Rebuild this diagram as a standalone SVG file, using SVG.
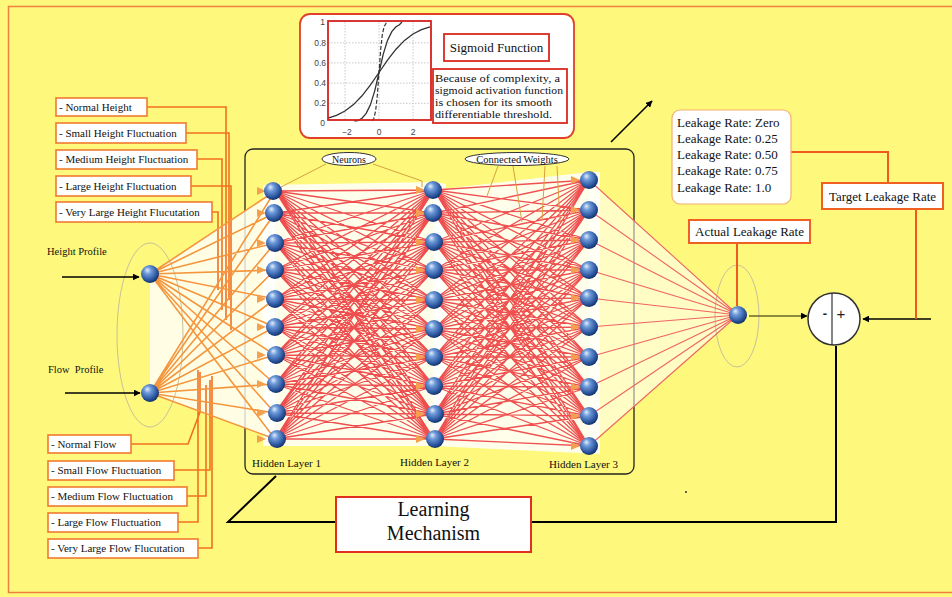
<svg xmlns="http://www.w3.org/2000/svg" xmlns:xlink="http://www.w3.org/1999/xlink" width="952" height="597" viewBox="0 0 952 597" font-family="'Liberation Serif','DejaVu Serif',serif">
<defs>
<radialGradient id="sph" cx="0.42" cy="0.38" r="0.65" fx="0.35" fy="0.28">
<stop offset="0" stop-color="#E4EEFB"/>
<stop offset="0.3" stop-color="#6F9BDA"/>
<stop offset="0.75" stop-color="#2A559E"/>
<stop offset="1" stop-color="#0F2B60"/>
</radialGradient>
<marker id="arr" viewBox="0 0 10 10" refX="9" refY="5" markerWidth="7" markerHeight="7" orient="auto" markerUnits="userSpaceOnUse">
<path d="M0 0L10 5L0 10Z" fill="#000"/>
</marker>
<path id="ah" d="M-18 -4L-9 0L-18 4Z" fill="#F5A04E"/>
<circle id="nd" r="9" fill="url(#sph)"/>
</defs>
<style>
.t{font-family:'Liberation Serif','DejaVu Serif',serif;fill:#111}
.s{font-family:'Liberation Sans',Arial,sans-serif;fill:#444;font-size:8.5px}
.box{fill:#fff;stroke:#F07A30;stroke-width:1.6}
.rbox{fill:#fff;stroke:#D82A20;stroke-width:1.8}
.conn{fill:none;stroke:#F07020;stroke-width:1.6}
.wt{fill:none;stroke-linejoin:round}
</style>
<rect x="0" y="0" width="952" height="597" fill="#FEF97C"/>
<rect x="8.5" y="6.5" width="960" height="586" fill="none" stroke="#F08040" stroke-width="1.5"/>

<g id="network-frame">
<rect x="245" y="149" width="389" height="325" rx="8" fill="none" stroke="#222" stroke-width="1.3"/>
<polygon points="150,274 275,191 275,439 150,393" fill="#fff" opacity="0.8"/>
<polygon points="263,185 434,182 446,184 446,446 263,446" fill="#fff" opacity="0.85"/>
<polygon points="434,190 589,172 600,172 600,454 434,446" fill="#fff" opacity="0.85"/>
<polygon points="589,180 738,315 589,446" fill="#fff" opacity="0.55"/>
<ellipse cx="150" cy="335" rx="33" ry="92" fill="none" stroke="#C8C09A" stroke-width="1"/>
<ellipse cx="737" cy="316" rx="22" ry="51" fill="none" stroke="#C8C09A" stroke-width="1"/>
</g>

<g id="label-connectors">
<path class="conn" d="M147 107H226V320M186 133H229V300M197 159H222V310M191 186H231V330M212 212H218V290"/>
<path class="conn" d="M131 444H188L200 412V372M174 470H210V380M187 496H206V385M178 522H198V370M198 548H212V376"/>
</g>

<g id="connectors">
<path class="wt" stroke="#F5963E" stroke-width="1.6" d="M150 274L275 191 150 274 275 213 150 274 275 243 150 274 275 270 150 274 275 299 150 274 275 327 150 274 275 355 150 274 275 384 150 274 275 413 150 274 275 439M150 393L275 191 150 393 275 213 150 393 275 243 150 393 275 270 150 393 275 299 150 393 275 327 150 393 275 355 150 393 275 384 150 393 275 413 150 393 275 439"/>
<path class="wt" stroke="#EE4E4E" stroke-width="1.3" d="M275 191L434 190 275 191 434 213 275 191 434 242 275 191 434 270 275 191 434 300 275 191 434 329 275 191 434 357 275 191 434 386 275 191 434 414 275 191 434 439
M275 213L434 190 275 213 434 213 275 213 434 242 275 213 434 270 275 213 434 300 275 213 434 329 275 213 434 357 275 213 434 386 275 213 434 414 275 213 434 439
M275 243L434 190 275 243 434 213 275 243 434 242 275 243 434 270 275 243 434 300 275 243 434 329 275 243 434 357 275 243 434 386 275 243 434 414 275 243 434 439
M275 270L434 190 275 270 434 213 275 270 434 242 275 270 434 270 275 270 434 300 275 270 434 329 275 270 434 357 275 270 434 386 275 270 434 414 275 270 434 439
M275 299L434 190 275 299 434 213 275 299 434 242 275 299 434 270 275 299 434 300 275 299 434 329 275 299 434 357 275 299 434 386 275 299 434 414 275 299 434 439
M275 327L434 190 275 327 434 213 275 327 434 242 275 327 434 270 275 327 434 300 275 327 434 329 275 327 434 357 275 327 434 386 275 327 434 414 275 327 434 439
M275 355L434 190 275 355 434 213 275 355 434 242 275 355 434 270 275 355 434 300 275 355 434 329 275 355 434 357 275 355 434 386 275 355 434 414 275 355 434 439
M275 384L434 190 275 384 434 213 275 384 434 242 275 384 434 270 275 384 434 300 275 384 434 329 275 384 434 357 275 384 434 386 275 384 434 414 275 384 434 439
M275 413L434 190 275 413 434 213 275 413 434 242 275 413 434 270 275 413 434 300 275 413 434 329 275 413 434 357 275 413 434 386 275 413 434 414 275 413 434 439
M275 439L434 190 275 439 434 213 275 439 434 242 275 439 434 270 275 439 434 300 275 439 434 329 275 439 434 357 275 439 434 386 275 439 434 414 275 439 434 439"/>
<path class="wt" stroke="#EF5050" stroke-width="1.3" d="M434 190L589 180 434 190 589 210 434 190 589 240 434 190 589 270 434 190 589 298 434 190 589 327 434 190 589 357 434 190 589 387 434 190 589 416 434 190 589 446
M434 213L589 180 434 213 589 210 434 213 589 240 434 213 589 270 434 213 589 298 434 213 589 327 434 213 589 357 434 213 589 387 434 213 589 416 434 213 589 446
M434 242L589 180 434 242 589 210 434 242 589 240 434 242 589 270 434 242 589 298 434 242 589 327 434 242 589 357 434 242 589 387 434 242 589 416 434 242 589 446
M434 270L589 180 434 270 589 210 434 270 589 240 434 270 589 270 434 270 589 298 434 270 589 327 434 270 589 357 434 270 589 387 434 270 589 416 434 270 589 446
M434 300L589 180 434 300 589 210 434 300 589 240 434 300 589 270 434 300 589 298 434 300 589 327 434 300 589 357 434 300 589 387 434 300 589 416 434 300 589 446
M434 329L589 180 434 329 589 210 434 329 589 240 434 329 589 270 434 329 589 298 434 329 589 327 434 329 589 357 434 329 589 387 434 329 589 416 434 329 589 446
M434 357L589 180 434 357 589 210 434 357 589 240 434 357 589 270 434 357 589 298 434 357 589 327 434 357 589 357 434 357 589 387 434 357 589 416 434 357 589 446
M434 386L589 180 434 386 589 210 434 386 589 240 434 386 589 270 434 386 589 298 434 386 589 327 434 386 589 357 434 386 589 387 434 386 589 416 434 386 589 446
M434 414L589 180 434 414 589 210 434 414 589 240 434 414 589 270 434 414 589 298 434 414 589 327 434 414 589 357 434 414 589 387 434 414 589 416 434 414 589 446
M434 439L589 180 434 439 589 210 434 439 589 240 434 439 589 270 434 439 589 298 434 439 589 327 434 439 589 357 434 439 589 387 434 439 589 416 434 439 589 446"/>
<path class="wt" stroke="#F06464" stroke-width="1.1" d="M738 315L589 180 738 315 589 210 738 315 589 240 738 315 589 270 738 315 589 298 738 315 589 327 738 315 589 357 738 315 589 387 738 315 589 416 738 315 589 446"/>
<path fill="none" stroke="#D9A040" stroke-width="1" d="M326 164L281 187M373 164L422 181V187M498 166L487 196M513 166L522 222M545 166L542 220M557 166L560 222"/>
<path fill="none" stroke="#000" stroke-width="1.6" marker-end="url(#arr)" d="M62 277H139"/>
<path fill="none" stroke="#000" stroke-width="1.6" marker-end="url(#arr)" d="M65 393H140"/>
<path fill="none" stroke="#66662A" stroke-width="1.6" marker-end="url(#arr)" d="M749 316H807"/>
<path fill="none" stroke="#000" stroke-width="1.6" marker-end="url(#arr)" d="M931 319H863"/>
<path fill="none" stroke="#000" stroke-width="1.6" marker-end="url(#arr)" d="M611 142L652 101"/>
<path fill="none" stroke="#F05A1E" stroke-width="2" d="M791 152H888V183M916 209V319M737 243V306"/>
<path fill="none" stroke="#000" stroke-width="2" d="M836 346V522H531M336 522H228L276 476"/>
</g>

<g id="arrowheads">
<use href="#ah" x="275" y="191"/><use href="#ah" x="275" y="213"/><use href="#ah" x="275" y="243"/><use href="#ah" x="275" y="270"/><use href="#ah" x="275" y="299"/><use href="#ah" x="275" y="327"/><use href="#ah" x="275" y="355"/><use href="#ah" x="275" y="384"/><use href="#ah" x="275" y="413"/><use href="#ah" x="275" y="439"/>
<use href="#ah" x="434" y="190"/><use href="#ah" x="434" y="213"/><use href="#ah" x="434" y="242"/><use href="#ah" x="434" y="270"/><use href="#ah" x="434" y="300"/><use href="#ah" x="434" y="329"/><use href="#ah" x="434" y="357"/><use href="#ah" x="434" y="386"/><use href="#ah" x="434" y="414"/><use href="#ah" x="434" y="439"/>
<use href="#ah" x="589" y="180"/><use href="#ah" x="589" y="210"/><use href="#ah" x="589" y="240"/><use href="#ah" x="589" y="270"/><use href="#ah" x="589" y="298"/><use href="#ah" x="589" y="327"/><use href="#ah" x="589" y="357"/><use href="#ah" x="589" y="387"/><use href="#ah" x="589" y="416"/><use href="#ah" x="589" y="446"/>
</g>

<g id="input-layer">
<use href="#nd" x="150" y="274"/><use href="#nd" x="150" y="393"/>
<text class="t" x="47" y="255" font-size="10.5">Height Profile</text>
<text class="t" x="48" y="373" font-size="10.5" style="white-space:pre">Flow  Profile</text>
</g>
<g id="hidden-layer-1">
<use href="#nd" x="273" y="191"/><use href="#nd" x="274" y="213"/><use href="#nd" x="275" y="243"/><use href="#nd" x="275" y="270"/><use href="#nd" x="275" y="299"/><use href="#nd" x="275" y="327"/><use href="#nd" x="276" y="355"/><use href="#nd" x="276" y="384"/><use href="#nd" x="277" y="413"/><use href="#nd" x="277" y="439"/>
<text class="t" x="252" y="467" font-size="11">Hidden Layer 1</text>
</g>
<g id="hidden-layer-2">
<use href="#nd" x="433" y="190"/><use href="#nd" x="433" y="213"/><use href="#nd" x="434" y="242"/><use href="#nd" x="434" y="270"/><use href="#nd" x="434" y="300"/><use href="#nd" x="434" y="329"/><use href="#nd" x="434" y="357"/><use href="#nd" x="434" y="386"/><use href="#nd" x="435" y="414"/><use href="#nd" x="435" y="439"/>
<text class="t" x="400" y="466" font-size="11">Hidden Layer 2</text>
</g>
<g id="hidden-layer-3">
<use href="#nd" x="589" y="180"/><use href="#nd" x="589" y="210"/><use href="#nd" x="589" y="240"/><use href="#nd" x="589" y="270"/><use href="#nd" x="589" y="298"/><use href="#nd" x="589" y="327"/><use href="#nd" x="589" y="357"/><use href="#nd" x="589" y="387"/><use href="#nd" x="589" y="416"/><use href="#nd" x="589" y="446"/>
<text class="t" x="549" y="468" font-size="11">Hidden Layer 3</text>
</g>
<g id="output-node">
<use href="#nd" x="738" y="315"/>
</g>

<g id="neurons-label">
<ellipse cx="349" cy="159" rx="27" ry="6.5" fill="#fff" stroke="#333" stroke-width="1"/>
<text class="t" x="349" y="162.5" font-size="10" text-anchor="middle">Neurons</text>
</g>
<g id="weights-label">
<ellipse cx="517" cy="159" rx="52" ry="6.5" fill="#fff" stroke="#333" stroke-width="1"/>
<text class="t" x="517" y="162.5" font-size="10.5" text-anchor="middle">Connected Weights</text>
</g>

<g id="height-inputs">
<rect class="box" x="56" y="98" width="91" height="18"/><text class="t" x="59" y="111" font-size="11">- Normal Height</text>
<rect class="box" x="56" y="123" width="130" height="20"/><text class="t" x="59" y="137" font-size="11">- Small Height Fluctuation</text>
<rect class="box" x="56" y="150" width="141" height="19"/><text class="t" x="59" y="163" font-size="11">- Medium Height Fluctuation</text>
<rect class="box" x="56" y="176" width="135" height="20"/><text class="t" x="59" y="190" font-size="11">- Large Height Fluctuation</text>
<rect class="box" x="56" y="202" width="156" height="20"/><text class="t" x="59" y="216" font-size="11">- Very Large Height Flucutation</text>
</g>
<g id="flow-inputs">
<rect class="box" x="48" y="435" width="83" height="18"/><text class="t" x="51" y="448" font-size="11">- Normal Flow</text>
<rect class="box" x="48" y="461" width="126" height="19"/><text class="t" x="51" y="474" font-size="11">- Small Flow Fluctuation</text>
<rect class="box" x="48" y="487" width="139" height="19"/><text class="t" x="51" y="500" font-size="11">- Medium Flow Fluctuation</text>
<rect class="box" x="48" y="513" width="130" height="19"/><text class="t" x="51" y="526" font-size="11">- Large Flow Fluctuation</text>
<rect class="box" x="48" y="539" width="150" height="19"/><text class="t" x="51" y="552" font-size="11">- Very Large Flow Flucutation</text>
</g>

<g id="sigmoid-panel">
<rect x="300" y="14" width="274" height="124" rx="10" fill="#fff" stroke="#E0402A" stroke-width="1.8"/>
<path fill="none" stroke="#BBB" stroke-width="0.8" stroke-dasharray="1.5 1.5" d="M345 22V121M379 22V121M413 22V121M328 42.8H431M328 62.9H431M328 83.1H431M328 103.3H431"/>
<polyline fill="none" stroke="#333" stroke-width="1.3" points="328,118.2 336.5,115.3 345,111 353.5,104.6 362,95.8 370.5,84.9 379,72.5 387.5,60.1 396,49.2 404.5,40.4 413,34 421.5,29.7 430,26.8"/>
<polyline fill="none" stroke="#333" stroke-width="1.3" points="354.5,121 358.6,120.3 362,118.2 366.2,113.4 370.5,104.6 374.8,90.6 379,72.5 383.2,54.4 387.5,40.4 391.8,31.6 396,26.8 399.4,24.7 402,22"/>
<polyline fill="none" stroke="#333" stroke-width="1.2" stroke-dasharray="4 2" points="372.2,121 373.9,118.2 375.6,111 377.3,95.8 379,72.5 380.7,49.2 382.4,34 384.1,26.8 385.8,23.8 386.5,22"/>
<rect x="328" y="21" width="103" height="99" fill="none" stroke="#D42020" stroke-width="1.8"/>
<text class="s" x="325" y="25" text-anchor="end">1</text>
<text class="s" x="326" y="46" text-anchor="end">0.8</text>
<text class="s" x="326" y="66" text-anchor="end">0.6</text>
<text class="s" x="326" y="86" text-anchor="end">0.4</text>
<text class="s" x="326" y="106" text-anchor="end">0.2</text>
<text class="s" x="325" y="126" text-anchor="end">0</text>
<text class="s" x="347" y="135" text-anchor="middle">−2</text>
<text class="s" x="379" y="135" text-anchor="middle">0</text>
<text class="s" x="413" y="135" text-anchor="middle">2</text>
<rect class="rbox" x="444" y="34" width="105" height="27"/>
<text class="t" x="496.5" y="52" font-size="13" text-anchor="middle">Sigmoid Function</text>
<rect class="rbox" x="433" y="69" width="134" height="54"/>
<text class="t" x="435" y="82" font-size="10.5" textLength="125" lengthAdjust="spacingAndGlyphs">Because of complexity, a</text>
<text class="t" x="435" y="94" font-size="10.5" textLength="128" lengthAdjust="spacingAndGlyphs">sigmoid activation function</text>
<text class="t" x="435" y="106" font-size="10.5" textLength="117" lengthAdjust="spacingAndGlyphs">is chosen for its smooth</text>
<text class="t" x="435" y="118" font-size="10.5" textLength="117" lengthAdjust="spacingAndGlyphs">differentiable threshold.</text>
</g>

<g id="leakage-rates">
<rect x="672" y="110" width="119" height="94" rx="8" fill="#fff" stroke="#F0B070" stroke-width="1.2"/>
<text class="t" x="677" y="127" font-size="13">Leakage Rate: Zero</text>
<text class="t" x="677" y="143" font-size="13">Leakage Rate: 0.25</text>
<text class="t" x="677" y="159" font-size="13">Leakage Rate: 0.50</text>
<text class="t" x="677" y="175" font-size="13">Leakage Rate: 0.75</text>
<text class="t" x="677" y="192" font-size="13">Leakage Rate: 1.0</text>
</g>
<g id="target-leakage">
<rect x="822" y="183" width="121" height="26" fill="#fff" stroke="#F06020" stroke-width="2"/>
<text class="t" x="882.5" y="200.5" font-size="13" text-anchor="middle">Target Leakage Rate</text>
</g>
<g id="actual-leakage">
<rect x="689" y="220" width="121" height="23" fill="#fff" stroke="#F06020" stroke-width="2"/>
<text class="t" x="749.5" y="236" font-size="13" text-anchor="middle">Actual Leakage Rate</text>
</g>
<g id="summing-junction">
<circle cx="834" cy="319" r="26" fill="#fff" stroke="#333" stroke-width="1.5"/>
<line x1="832" y1="293" x2="832" y2="345" stroke="#333" stroke-width="1.2"/>
<text x="825" y="318" font-family="'Liberation Sans',Arial,sans-serif" font-size="13" font-weight="bold" text-anchor="middle" fill="#222">-</text>
<text x="841" y="319" font-family="'Liberation Sans',Arial,sans-serif" font-size="15" text-anchor="middle" fill="#222">+</text>
</g>
<g id="learning-mechanism">
<rect x="336" y="497" width="195" height="55" fill="#fff" stroke="#E03020" stroke-width="2"/>
<text class="t" x="433.5" y="516" font-size="20" text-anchor="middle">Learning</text>
<text class="t" x="433.5" y="540" font-size="20" text-anchor="middle">Mechanism</text>
</g>
<circle cx="686" cy="492" r="1" fill="#333"/>
</svg>
